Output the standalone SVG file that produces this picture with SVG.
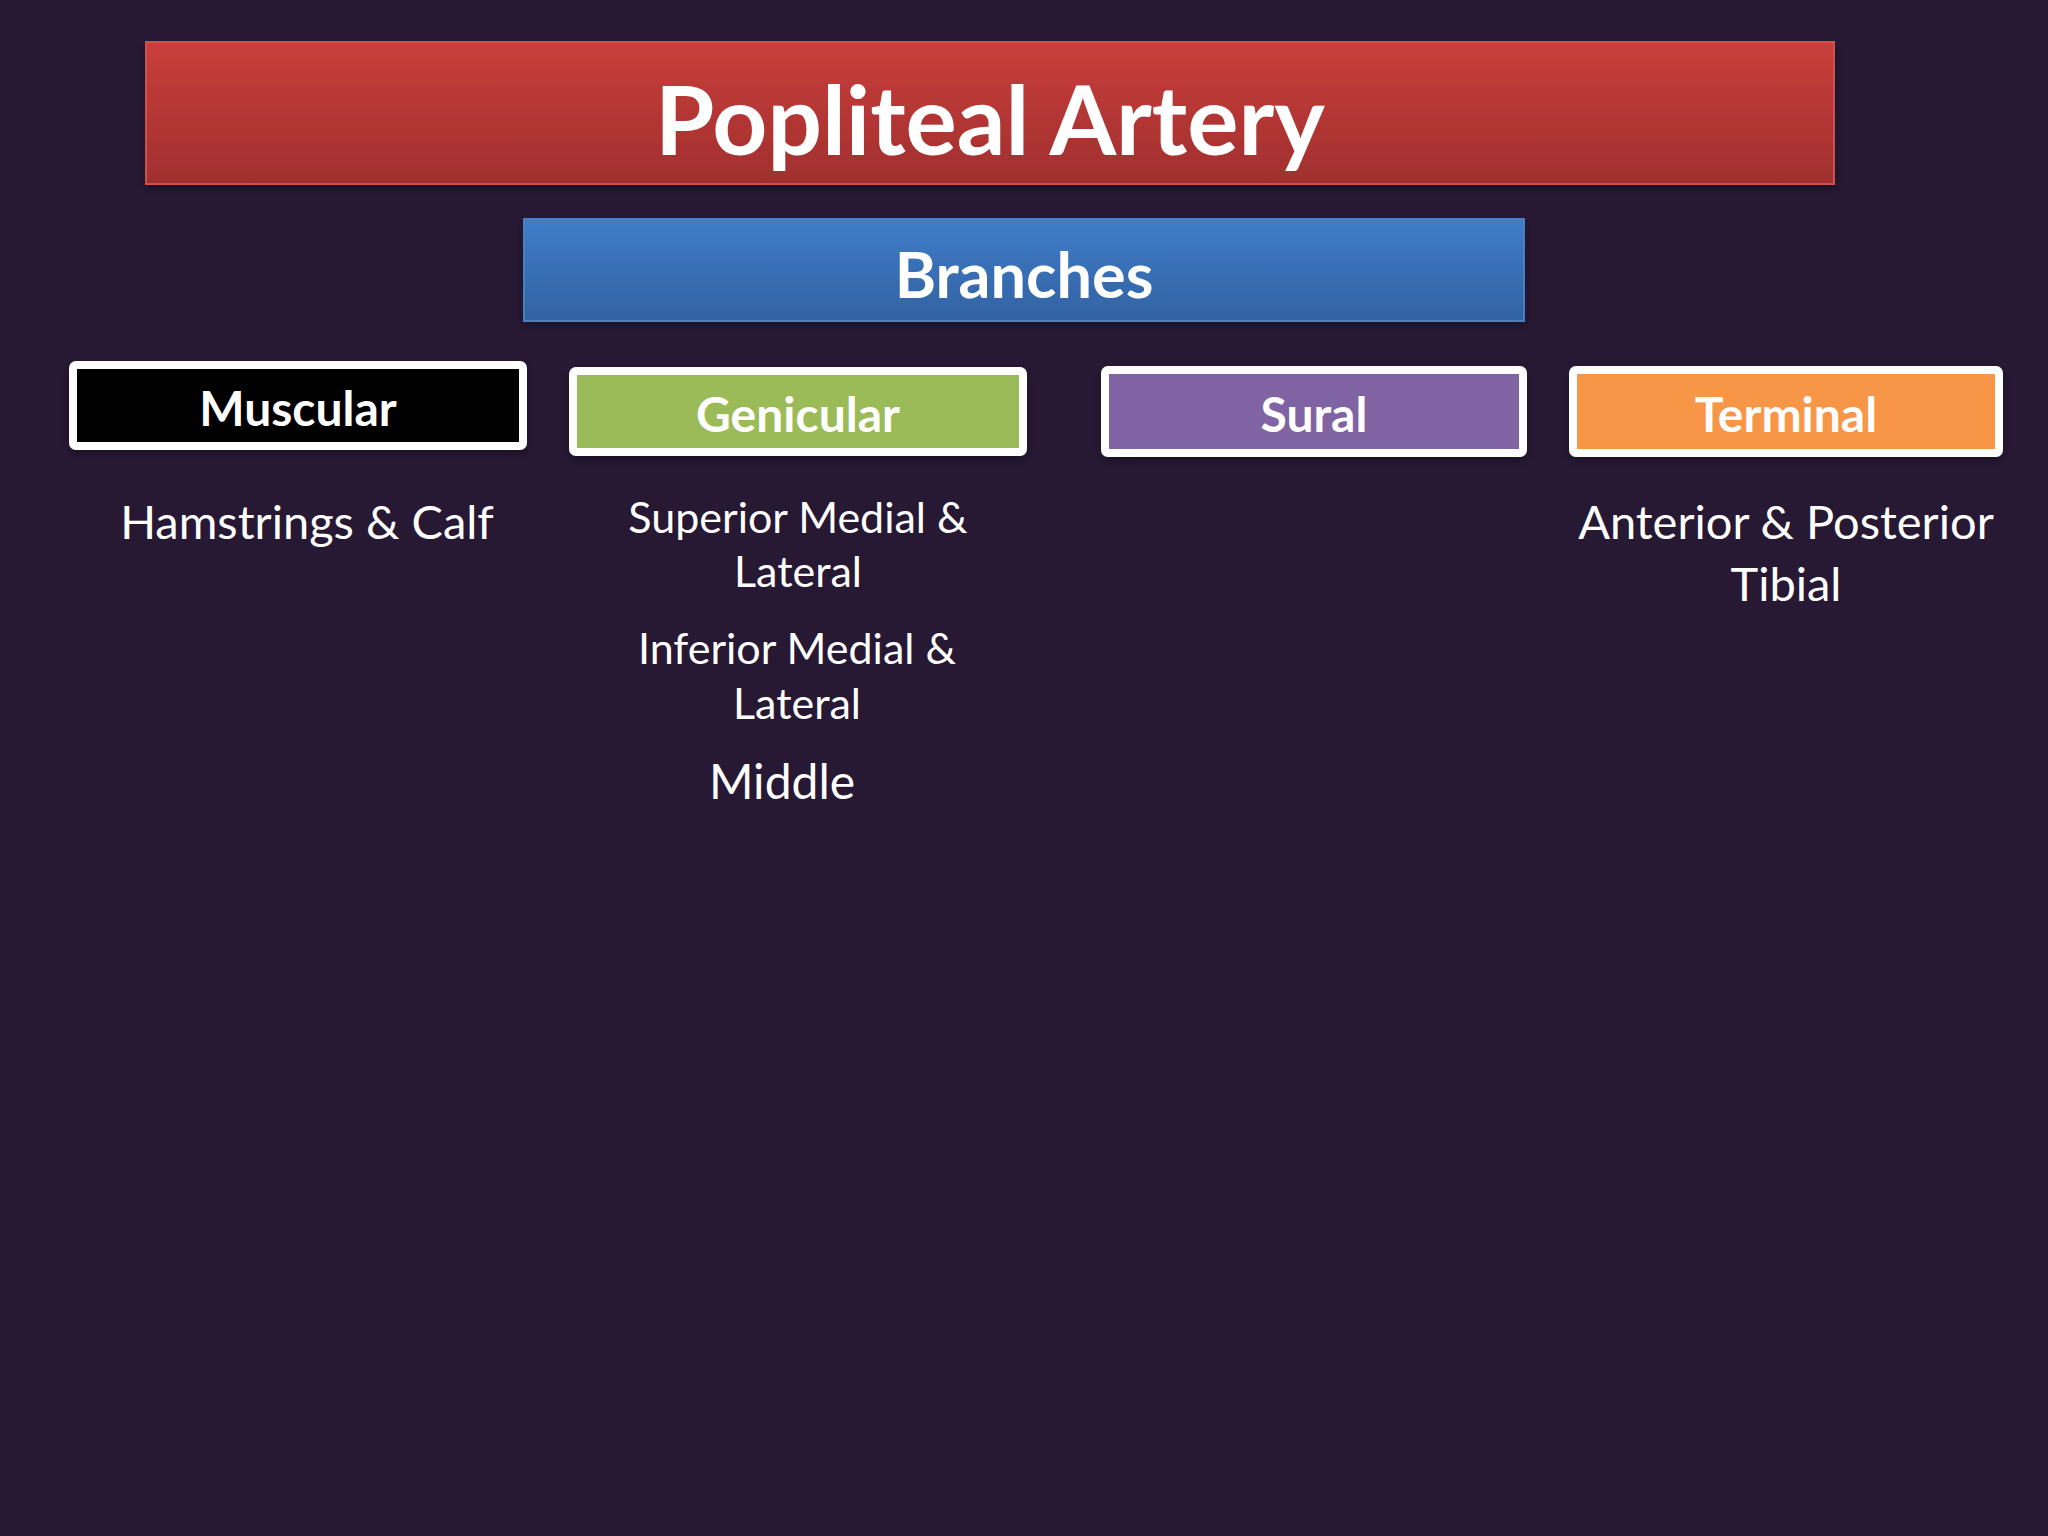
<svg xmlns="http://www.w3.org/2000/svg" width="2048" height="1536" viewBox="0 0 2048 1536">
<defs>
<linearGradient id="gRed" x1="0" y1="0" x2="0" y2="1"><stop offset="0" stop-color="#C93E3B"/><stop offset="1" stop-color="#A02F2E"/></linearGradient>
<linearGradient id="gBlue" x1="0" y1="0" x2="0" y2="1"><stop offset="0" stop-color="#3F7CC9"/><stop offset="1" stop-color="#3262A2"/></linearGradient>
<filter id="sh" x="-5%" y="-20%" width="110%" height="150%"><feDropShadow dx="0" dy="4" stdDeviation="4" flood-color="#000" flood-opacity="0.35"/></filter>
</defs>
<style>
text{font-family:Lato,"Open Sans","Liberation Sans",sans-serif;fill:#fff;text-anchor:middle}
.b{font-weight:bold}
.cat{stroke:#fff;stroke-width:8;filter:url(#sh)}
.hd{font-size:48px;font-weight:bold}
.sub{font-size:43px}
.sub2{font-size:47px}
</style>
<rect width="2048" height="1536" fill="#271834"/>
<g id="title">
<rect x="146" y="42" width="1688" height="142" fill="url(#gRed)" stroke="#CB524E" stroke-width="2" filter="url(#sh)"/>
<text x="990" y="155" class="b" font-size="96">Popliteal Artery</text>
</g>
<g id="branches">
<rect x="524" y="219" width="1000" height="102" fill="url(#gBlue)" stroke="#4A7FC0" stroke-width="2" filter="url(#sh)"/>
<text x="1024" y="298" class="b" font-size="63">Branches</text>
</g>
<g id="muscular">
<rect x="73" y="365" width="450" height="81" rx="3" fill="#000" class="cat"/>
<text x="298" y="426" class="hd" font-size="46">Muscular</text>
<text x="307" y="539" class="sub2">Hamstrings &amp; Calf</text>
</g>
<g id="genicular">
<rect x="573" y="371" width="450" height="81" rx="3" fill="#9BBB59" class="cat"/>
<text x="798" y="432" class="hd">Genicular</text>
<text x="798" y="533" class="sub">Superior Medial &amp;</text>
<text x="798" y="587" class="sub">Lateral</text>
<text x="797" y="664" class="sub">Inferior Medial &amp;</text>
<text x="797" y="719" class="sub">Lateral</text>
<text x="782" y="799" font-size="48">Middle</text>
</g>
<g id="sural">
<rect x="1105" y="370" width="418" height="83" rx="3" fill="#8064A2" class="cat"/>
<text x="1314" y="432" class="hd">Sural</text>
</g>
<g id="terminal">
<rect x="1573" y="370" width="426" height="83" rx="3" fill="#F79646" class="cat"/>
<text x="1786" y="432" class="hd">Terminal</text>
<text x="1786" y="539" class="sub2">Anterior &amp; Posterior</text>
<text x="1786" y="601" class="sub2">Tibial</text>
</g>
<g id="connectors"/>
</svg>
